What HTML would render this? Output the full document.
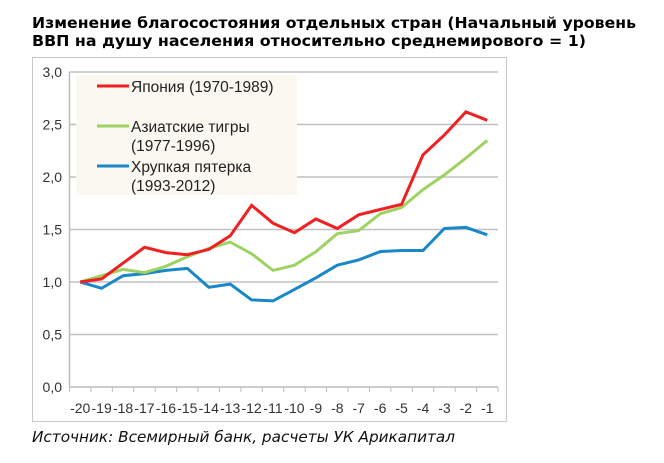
<!DOCTYPE html>
<html><head><meta charset="utf-8"><style>
html,body{margin:0;padding:0;background:#fff;}
svg{display:block;font-family:"Liberation Sans","DejaVu Sans",sans-serif;}
</style></head><body>
<svg width="664" height="463" viewBox="0 0 664 463">
<text x="32" y="28" font-size="15" font-weight="bold" font-family="DejaVu Sans, sans-serif" textLength="604" lengthAdjust="spacingAndGlyphs">Изменение благосостояния отдельных стран (Начальный уровень</text>
<text x="32" y="46" font-size="15" font-weight="bold" font-family="DejaVu Sans, sans-serif" textLength="554" lengthAdjust="spacingAndGlyphs">ВВП на душу населения относительно среднемирового = 1)</text>
<rect x="32.5" y="57.5" width="474" height="364" fill="#fff" stroke="#c8c8c8" stroke-width="1"/>
<g id="grid"></g>
<rect x="76" y="75" width="221" height="120" fill="#fbf7f1"/>
<g id="series"></g>
<g id="axes"></g>
<g font-size="15.5" fill="#222">
<line x1="97" y1="86" x2="129" y2="86" stroke="#f02020" stroke-width="3"/>
<text x="131" y="92">Япония (1970-1989)</text>
<line x1="97" y1="126" x2="129" y2="126" stroke="#9ed262" stroke-width="3"/>
<text x="131" y="132">Азиатские тигры</text>
<text x="131" y="151">(1977-1996)</text>
<line x1="97" y1="166" x2="129" y2="166" stroke="#1a87c8" stroke-width="3"/>
<text x="131" y="172">Хрупкая пятерка</text>
<text x="131" y="191">(1993-2012)</text>
</g>
<text x="32" y="442" font-size="15" font-style="italic" font-family="DejaVu Sans, sans-serif" textLength="423" lengthAdjust="spacingAndGlyphs" fill="#111">Источник: Всемирный банк, расчеты УК Арикапитал</text>
</svg>
<script>
const categories=["-20","-19","-18","-17","-16","-15","-14","-13","-12","-11","-10","-9","-8","-7","-6","-5","-4","-3","-2","-1"];
const japan=[1.0,1.03,1.18,1.33,1.28,1.26,1.31,1.44,1.73,1.56,1.47,1.60,1.51,1.64,1.69,1.74,2.21,2.40,2.62,2.54];
const tigers=[1.0,1.06,1.12,1.09,1.15,1.24,1.32,1.38,1.27,1.11,1.16,1.29,1.46,1.49,1.65,1.71,1.88,2.02,2.18,2.35];
const fragile=[1.0,0.94,1.06,1.08,1.11,1.13,0.95,0.98,0.83,0.82,0.93,1.04,1.16,1.21,1.29,1.30,1.30,1.51,1.52,1.45];
const yTicks=[0,0.5,1,1.5,2,2.5,3];
const yTickLabels=["0,0","0,5","1,0","1,5","2,0","2,5","3,0"];
const NS="http://www.w3.org/2000/svg";
const X0=69.5,X1=498,Y0=387,Y1=72;
const band=(X1-X0)/categories.length;
function xPos(i){return X0+band*(i+0.5);}
function yPos(v){return Y0-(v-0)/(3-0)*(Y0-Y1);}
function mk(tag,parent,attrs){const e=document.createElementNS(NS,tag);for(const k in attrs)e.setAttribute(k,attrs[k]);parent.appendChild(e);return e;}
const grid=document.getElementById('grid'),axes=document.getElementById('axes'),series=document.getElementById('series');
yTicks.forEach((t,i)=>{
  const y=yPos(t);
  if(t>0){const l=mk('line',grid,{x1:X0,x2:X1,y1:y,y2:y,stroke:'#c0c0c0','stroke-width':1.5});
  
  }
  const tx=mk('text',axes,{x:62,y:y+5,'text-anchor':'end','font-size':14,fill:'#333'});
  tx.textContent=yTickLabels[i];
  
  
});
const ax=mk('line',axes,{x1:X0,x2:X0,y1:Y1,y2:Y0,stroke:'#bbb','stroke-width':1.5});


const bx=mk('line',axes,{x1:X0,x2:X1,y1:Y0,y2:Y0,stroke:'#bbb','stroke-width':1.5});


for(let i=0;i<=categories.length;i++){
  const x=X0+band*i;
  const tk=mk('line',axes,{x1:x,x2:x,y1:Y0,y2:Y0+5,stroke:'#bbb','stroke-width':1});
  
  
}
categories.forEach((c,i)=>{
  const tx=mk('text',axes,{x:xPos(i),y:413,'text-anchor':'middle','font-size':14,fill:'#333'});
  tx.textContent=c;
  
  
});
function drawLine(vals,color,name){
  const pts=vals.map((v,i)=>xPos(i).toFixed(1)+','+yPos(v).toFixed(1)).join(' ');
  const p=mk('polyline',series,{points:pts,fill:'none',stroke:color,'stroke-width':3,'stroke-linejoin':'miter'});
  
  
}
drawLine(fragile,'#1a87c8','line-fragile-five');
drawLine(tigers,'#9ed262','line-asian-tigers');
drawLine(japan,'#f02020','line-japan');
</script>
</body></html>
